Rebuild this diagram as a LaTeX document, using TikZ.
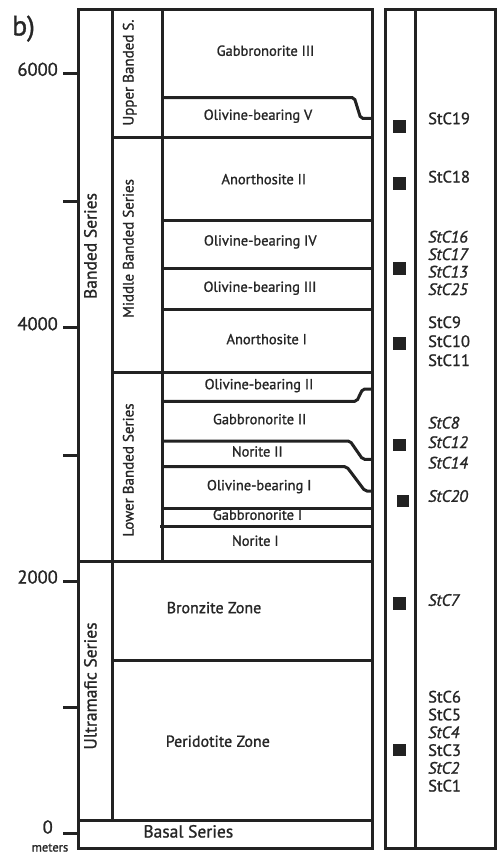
\documentclass[tikz,border=0pt]{standalone}
\usepackage{fontspec}
\setmainfont{PT Sans}[FakeBold=1.2]
\definecolor{ln}{HTML}{222222}
\definecolor{tx}{HTML}{262626}
\begin{document}
\begin{tikzpicture}[x=1pt,y=-1pt,
  bd/.style={draw=ln,line width=3pt},
  jog/.style={bd,rounded corners=2pt},
  lab/.style={text=tx,inner sep=0pt,anchor=mid,font=\fontsize{14.5}{15}\selectfont},
  big/.style={lab,font=\fontsize{16}{17}\selectfont},
  ser/.style={text=tx,inner sep=0pt,anchor=mid,rotate=90,font=\fontsize{17.5}{18}\selectfont},
  sub/.style={text=tx,inner sep=0pt,anchor=mid,rotate=90,font=\fontsize{15}{15}\selectfont},
  smp/.style={text=tx,inner sep=0pt,anchor=mid west,font=\fontsize{16.5}{17}\selectfont},
  ita/.style={smp,font=\fontsize{16.5}{17}\selectfont\itshape},
  sq/.style={fill=ln,minimum size=12.5pt,inner sep=0pt},
  tick/.style={text=tx,inner sep=0pt,anchor=mid east,font=\fontsize{18.5}{18}\selectfont}
]
\useasboundingbox (0,0) rectangle (497,854);
\fill[white] (0,0) rectangle (497,854);

% main frames
\draw[bd] (78,9.5) rectangle (372,848.7);
\draw[bd] (385,9.5) rectangle (495,848.7);
\draw[bd] (415,9.5) -- (415,848.7);
\draw[bd] (112,9.5) -- (112,820.7);
\draw[bd] (162,9.5) -- (162,561);
\draw[bd] (78,820.7) -- (372,820.7);
\draw[bd] (78,561) -- (372,561);
\draw[bd] (112,660) -- (372,660);
\draw[bd] (112,137) -- (372,137);
\draw[bd] (112,372) -- (372,372);

% unit boundaries
\draw[jog] (162,97.7) -- (354.3,97.7) -- (360.7,118.3) -- (372,118.3);
\draw[bd] (162,220) -- (372,220);
\draw[bd] (162,268.3) -- (372,268.3);
\draw[bd] (162,309) -- (372,309);
\draw[jog] (162,401.3) -- (356.7,401.3) -- (362.7,389) -- (372,389);
\draw[jog] (162,441) -- (350,441) -- (362.7,459.3) -- (372,459.3);
\draw[jog] (162,466.7) -- (346.7,466.7) -- (365,491) -- (372,491);
\draw[bd] (162,508.7) -- (372,508.7);
\draw[bd] (160,526) -- (372,526);

% ticks
\foreach \yy in {73.3,201.7,327.7,455,581,707.7,833.3}
  \draw[bd] (63,\yy) -- (78,\yy);
\node[tick] (t6) at (58,73.3) {6000};
\node[tick] (t4) at (58,327.7) {4000};
\node[tick] (t2) at (58,581) {2000};
\node[tick] (t0) at (53,831) {0};
\node[text=tx,inner sep=0pt,anchor=mid,font=\fontsize{12.5}{12.5}\selectfont] (m) at (50,849) {meters};
\node[text=tx,inner sep=0pt,anchor=mid,font=\fontsize{28}{28}\selectfont] (b) at (23.5,33) {b)};

% series labels
\node[ser] (bs) at (94,246) {Banded Series};
\node[ser] (us) at (94,686) {Ultramafic Series};
\node[sub] (ub) at (131,72.5) {Upper Banded S.};
\node[sub] (mb) at (131,248.5) {Middle Banded Series};
\node[sub] (lb) at (131,470) {Lower Banded Series};

% rock labels
\node[lab] (g3) at (265.5,53.3) {Gabbronorite III};
\node[lab] (o5) at (258,117.3) {Olivine-bearing V};
\node[lab] (a2) at (263.8,181.7) {Anorthosite II};
\node[lab] (o4) at (260.3,243) {Olivine-bearing IV};
\node[lab] (o3) at (260,289.3) {Olivine-bearing III};
\node[lab] (a1) at (266.7,341.7) {Anorthosite I};
\node[lab] (o2) at (259,386.7) {Olivine-bearing II};
\node[lab] (g2) at (259.7,421.7) {Gabbronorite II};
\node[lab] (n2) at (257.3,454) {Norite II};
\node[lab] (o1) at (259.2,487.7) {Olivine-bearing I};
\node[lab] (g1) at (257.5,517.3) {Gabbronorite I};
\node[lab] (n1) at (255.3,543.3) {Norite I};
\node[big] (bz) at (214,610.7) {Bronzite Zone};
\node[big] (pz) at (217.8,744.3) {Peridotite Zone};
\node[big,font=\fontsize{17.5}{18}\selectfont] (basal) at (188.3,835) {Basal Series};

% sample squares
\node[sq] (q1) at (399.7,126.3) {};
\node[sq] (q2) at (399.7,183.3) {};
\node[sq] (q3) at (399.7,268.3) {};
\node[sq] (q4) at (399.7,343.3) {};
\node[sq] (q5) at (399.7,445) {};
\node[sq] (q6) at (402.8,501) {};
\node[sq] (q7) at (399.7,603.3) {};
\node[sq] (q8) at (399.7,750) {};

% sample names
\node[smp] (s19) at (428,121.7) {StC19};
\node[smp] (s18) at (428,180) {StC18};
\node[ita] (s16) at (428,240) {StC16};
\node[ita] (s17) at (428,257.5) {StC17};
\node[ita] (s13) at (428,275) {StC13};
\node[ita] (s25) at (428,292.5) {StC25};
\node[smp] (s9) at (428,325.5) {StC9};
\node[smp] (s10) at (428,344.5) {StC10};
\node[smp] (s11) at (428,363.5) {StC11};
\node[ita] (s8) at (428,426) {StC8};
\node[ita] (s12) at (428,445.5) {StC12};
\node[ita] (s14) at (428,466) {StC14};
\node[ita] (s20) at (428,499.3) {StC20};
\node[ita] (s7) at (428,603.3) {StC7};
\node[smp] (s6) at (428,700) {StC6};
\node[smp] (s5) at (428,717.8) {StC5};
\node[ita] (s4) at (428,735.6) {StC4};
\node[smp] (s3) at (428,753.4) {StC3};
\node[ita] (s2) at (428,771.2) {StC2};
\node[smp] (s1) at (428,789) {StC1};
\end{tikzpicture}
\end{document}
